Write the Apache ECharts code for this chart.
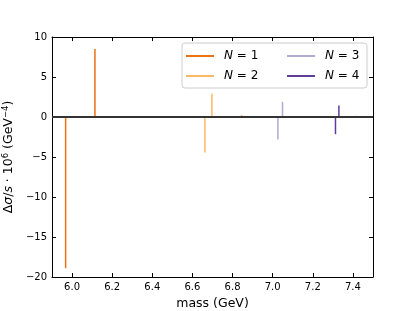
<!DOCTYPE html>
<html><head><meta charset="utf-8">
<script src="https://cdn.jsdelivr.net/npm/echarts@6/dist/echarts.min.js"></script>
<style>html,body{margin:0;padding:0;background:#fff}#c{width:415px;height:311px}</style>
</head><body><div id="c"></div>
<script>
const seriesNames = ['N = 1', 'N = 2', 'N = 3', 'N = 4'];
const masses1 = [5.968, 6.114, 6.845];
const values1 = [-18.9, 8.5, 0.2];
const masses2 = [6.662, 6.697];
const values2 = [-4.45, 2.9];
const masses3 = [7.026, 7.049, 7.415];
const values3 = [-2.8, 1.9, 0.15];
const masses4 = [7.313, 7.330];
const values4 = [-2.15, 1.45];
const xTicks = [6.0, 6.2, 6.4, 6.6, 6.8, 7.0, 7.2, 7.4];
const yTicks = [-20, -15, -10, -5, 0, 5, 10];
const colors = ['#ec7014', '#fdb863', '#b2abd2', '#5e3c99'];

const allMasses = [masses1, masses2, masses3, masses4];
const allValues = [values1, values2, values3, values4];

const chart = echarts.init(document.getElementById('c'), null, {renderer: 'canvas'});
const FONT = 'DejaVu Sans';

function stemRender(params, api) {
  const x = api.value(0), y = api.value(1);
  const p0 = api.coord([x, 0]);
  const p1 = api.coord([x, y]);
  return {type: 'line', shape: {x1: p0[0], y1: p0[1], x2: p1[0], y2: p1[1]},
          style: {stroke: api.visual('color'), lineWidth: 1.5}};
}

const stemSeries = seriesNames.map((n, i) => ({
  name: n, type: 'custom', renderItem: stemRender,
  itemStyle: {color: colors[i]},
  data: allMasses[i].map((m, k) => [m, allValues[i][k]]),
  encode: {x: 0, y: 1}, z: 2
}));

const tickCommon = {inside: true, length: 4, lineStyle: {color: '#000', width: 1}};
const axisLineCommon = {show: true, onZero: false, lineStyle: {color: '#000', width: 1}};

chart.setOption({
  animation: false,
  grid: {left: 52, right: 42, top: 37, bottom: 34, containLabel: false, outerBoundsMode: 'none'},
  legend: {
    orient: 'vertical', left: 182, top: 43, height: 36,
    itemWidth: 28, itemHeight: 2, itemGap: 8, icon: 'rect',
    borderColor: '#ccc', borderWidth: 1, borderRadius: 3,
    backgroundColor: 'rgba(255,255,255,0.8)',
    padding: [7, 4, 6, 4],
    data: seriesNames.map((n, i) => ({name: n, textStyle: {width: i < 2 ? 55 : 38}})),
    formatter: function (name) { return '{i|N} = ' + name.slice(4); },
    textStyle: {fontFamily: FONT, fontSize: 12, color: '#000', lineHeight: 12, padding: [0, 0, 0, 5],
      rich: {i: {fontStyle: 'italic', fontFamily: FONT, fontSize: 12, color: '#000'}}}
  },
  xAxis: [{
    type: 'value', min: 5.9, max: 7.5, position: 'bottom',
    name: 'mass (GeV)', nameLocation: 'middle', nameGap: 20,
    nameTextStyle: {fontFamily: FONT, fontSize: 12.5, color: '#000'},
    axisLine: axisLineCommon,
    axisTick: Object.assign({customValues: xTicks}, tickCommon),
    axisLabel: {customValues: xTicks, fontFamily: FONT, fontSize: 10, color: '#000', margin: 5,
      formatter: v => v.toFixed(1)},
    splitLine: {show: false}
  }, {
    type: 'value', min: 5.9, max: 7.5, position: 'top',
    axisLine: axisLineCommon,
    axisTick: Object.assign({customValues: xTicks}, tickCommon),
    axisLabel: {show: false}, splitLine: {show: false}
  }],
  yAxis: [{
    type: 'value', min: -20, max: 10, interval: 5, position: 'left',
    name: '{n|Δ}{i|σ}{n|/}{i|s}{n| · 10}{s|6}{n| (GeV}{s|−4}{n|)}',
    nameLocation: 'middle', nameGap: 34, nameRotate: 90,
    nameTextStyle: {fontFamily: FONT, fontSize: 12.5, color: '#000',
      rich: {
        n: {fontFamily: FONT, fontSize: 12.5, color: '#000'},
        i: {fontFamily: FONT, fontSize: 12.5, fontStyle: 'italic', color: '#000'},
        s: {fontFamily: FONT, fontSize: 8.5, color: '#000', verticalAlign: 'top', padding: [0, 0, 6, 0]}
      }},
    axisLine: axisLineCommon,
    axisTick: tickCommon,
    axisLabel: {fontFamily: FONT, fontSize: 10, color: '#000', margin: 5,
      formatter: v => (v < 0 ? '\u2212' + Math.abs(v) : String(v))},
    splitLine: {show: false}
  }, {
    type: 'value', min: -20, max: 10, interval: 5, position: 'right',
    axisLine: axisLineCommon,
    axisTick: tickCommon, axisLabel: {show: false}, splitLine: {show: false}
  }],
  series: stemSeries.concat([{
    type: 'line', name: 'baseline', data: [[5.9, 0], [7.5, 0]],
    symbol: 'none', lineStyle: {color: '#333', width: 2}, z: 3, silent: true
  }])
});
</script></body></html>
